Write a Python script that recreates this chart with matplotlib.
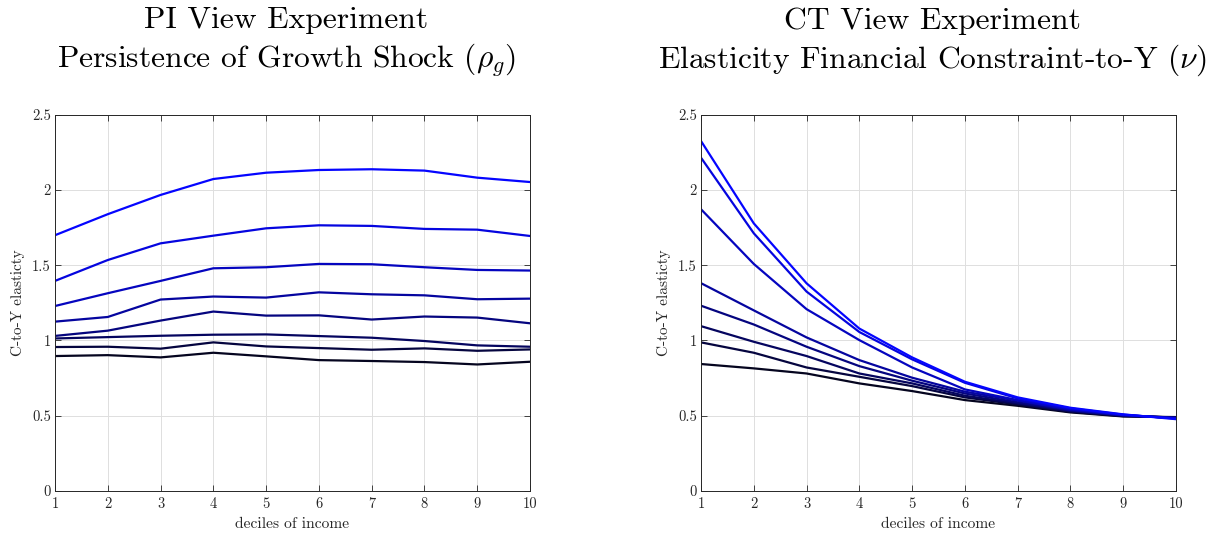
import matplotlib
matplotlib.use("Agg")
import matplotlib.pyplot as plt
import numpy as np

plt.rcParams['font.family'] = ['cmr10', 'DejaVu Serif']
plt.rcParams['mathtext.fontset'] = 'cm'
plt.rcParams['axes.formatter.use_mathtext'] = True

deciles = [1, 2, 3, 4, 5, 6, 7, 8, 9, 10]

# PI view experiment: lines ordered from darkest (lowest) to brightest (highest)
pi_1 = [0.896, 0.902, 0.887, 0.918, 0.894, 0.869, 0.863, 0.856, 0.840, 0.858]
pi_2 = [0.956, 0.958, 0.945, 0.987, 0.960, 0.949, 0.938, 0.947, 0.931, 0.940]
pi_3 = [1.013, 1.022, 1.031, 1.038, 1.040, 1.029, 1.018, 0.996, 0.967, 0.958]
pi_4 = [1.030, 1.065, 1.132, 1.192, 1.165, 1.167, 1.139, 1.159, 1.152, 1.114]
pi_5 = [1.125, 1.156, 1.272, 1.292, 1.285, 1.320, 1.307, 1.300, 1.274, 1.278]
pi_6 = [1.229, 1.314, 1.396, 1.480, 1.487, 1.509, 1.507, 1.487, 1.469, 1.465]
pi_7 = [1.396, 1.535, 1.646, 1.697, 1.746, 1.766, 1.762, 1.742, 1.737, 1.695]
pi_8 = [1.700, 1.840, 1.968, 2.074, 2.116, 2.134, 2.139, 2.130, 2.083, 2.054]

# CT view experiment
ct_1 = [0.843, 0.814, 0.780, 0.714, 0.663, 0.603, 0.565, 0.521, 0.494, 0.490]
ct_2 = [0.987, 0.918, 0.820, 0.758, 0.696, 0.621, 0.574, 0.525, 0.496, 0.488]
ct_3 = [1.095, 0.991, 0.896, 0.780, 0.714, 0.632, 0.581, 0.530, 0.498, 0.487]
ct_4 = [1.231, 1.106, 0.958, 0.829, 0.732, 0.647, 0.588, 0.534, 0.500, 0.486]
ct_5 = [1.381, 1.200, 1.020, 0.869, 0.752, 0.659, 0.599, 0.537, 0.502, 0.484]
ct_6 = [1.873, 1.509, 1.208, 1.002, 0.820, 0.674, 0.603, 0.541, 0.504, 0.482]
ct_7 = [2.216, 1.713, 1.325, 1.056, 0.874, 0.718, 0.614, 0.548, 0.506, 0.480]
ct_8 = [2.327, 1.779, 1.380, 1.079, 0.887, 0.725, 0.621, 0.552, 0.508, 0.476]

pi_series = [pi_1, pi_2, pi_3, pi_4, pi_5, pi_6, pi_7, pi_8]
ct_series = [ct_1, ct_2, ct_3, ct_4, ct_5, ct_6, ct_7, ct_8]

titles = ["PI View Experiment\nPersistence of Growth Shock ($\\rho_g$)",
          "CT View Experiment\nElasticity Financial Constraint-to-Y ($\\nu$)"]
xlabel = "deciles of income"
ylabel = "C-to-Y elasticty"
yticks = [0, 0.5, 1, 1.5, 2, 2.5]
ytick_labels = ["0", "0.5", "1", "1.5", "2", "2.5"]

W, H = 1210, 537
fig = plt.figure(figsize=(W / 100, H / 100), dpi=100)
axes_px = [(55, 530), (701, 1176)]
top_px, bot_px = 115, 490.7

colors = [(0.02, 0.02, t) for t in np.linspace(0.12, 1.0, 8)]
dark = (0.15, 0.15, 0.15)

for (x0, x1), series, title in zip(axes_px, [pi_series, ct_series], titles):
    ax = fig.add_axes([x0 / W, (H - bot_px) / H, (x1 - x0) / W, (bot_px - top_px) / H])
    for s, c in zip(series, colors):
        ax.plot(deciles, s, color=c, lw=1.6)
    ax.set_xlim(1, 10)
    ax.set_ylim(0, 2.5)
    ax.set_xticks(deciles)
    ax.set_xticklabels([str(d) for d in deciles])
    ax.set_yticks(yticks)
    ax.set_yticklabels(ytick_labels)
    ax.grid(True, color=(0.87, 0.87, 0.87), lw=0.7)
    ax.set_axisbelow(True)
    ax.tick_params(direction='in', top=True, right=True, length=4, width=0.6,
                   labelsize=10.5, colors=dark)
    ax.tick_params(axis='x', pad=5)
    ax.tick_params(axis='y', pad=3)
    for sp in ax.spines.values():
        sp.set_color(dark)
        sp.set_linewidth(0.7)
    ax.set_xlabel(xlabel, fontsize=11.2, color=dark, labelpad=4)
    ax.set_ylabel(ylabel, fontsize=11, color=dark, labelpad=5)
    ax.set_title(title, fontsize=22.7, pad=34, linespacing=1.3, x=0.487)

fig.savefig("out.png", dpi=100)
